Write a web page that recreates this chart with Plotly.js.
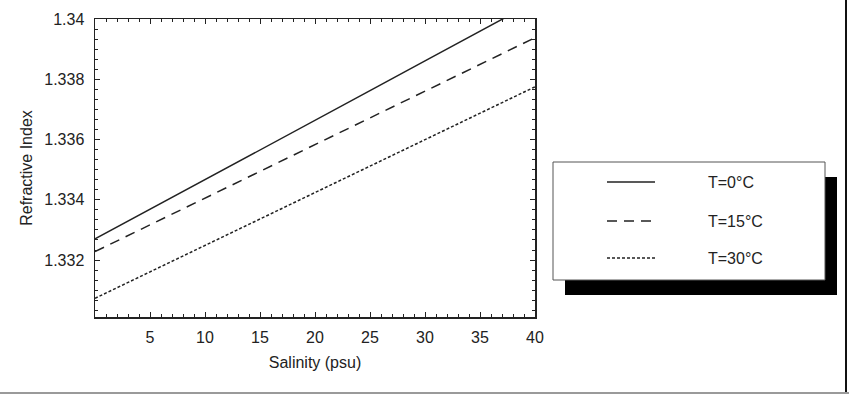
<!DOCTYPE html>
<html>
<head>
<meta charset="utf-8">
<script src="https://cdn.plot.ly/plotly-3.0.1.min.js"></script>
<style>
  html, body { margin: 0; padding: 0; background: #fff; }
  #wrap { position: relative; width: 849px; height: 394px; overflow: hidden; }
  #chart { width: 849px; height: 394px; }
  #edgeR { position: absolute; left: 845px; top: 0; width: 2px; height: 394px; background: #111; }
  #edgeB { position: absolute; left: 0; top: 392px; width: 849px; height: 2px; background: #9a9a9a; }
</style>
</head>
<body>
<div id="wrap">
  <div id="chart"></div>
  <div id="edgeR"></div>
  <div id="edgeB"></div>
</div>
<script>
// ---- data ----
const salinity = [0, 5, 10, 15, 20, 25, 30, 35, 40];
const n_T0  = [1.33270, 1.33368, 1.33467, 1.33565, 1.33664, 1.33762, 1.33861, 1.33959, 1.34058];
const n_T15 = [1.33228, 1.33317, 1.33405, 1.33494, 1.33583, 1.33672, 1.33760, 1.33849, 1.33938];
const n_T30 = [1.33073, 1.33161, 1.33249, 1.33336, 1.33424, 1.33512, 1.33600, 1.33687, 1.33775];
const seriesNames = ["T=0°C", "T=15°C", "T=30°C"];
const xTickVals = [5, 10, 15, 20, 25, 30, 35, 40];
const yTickVals = [1.332, 1.334, 1.336, 1.338, 1.34];
const yTickText = ["1.332", "1.334", "1.336", "1.338", "1.34"];

// ---- layout geometry ----
const W = 849, H = 394;
const L = 95, R = 535, T = 19, B = 317;
const pw = R - L, ph = B - T;
const px = v => (v - L) / pw;   // pixel x -> paper x
const py = v => (B - v) / ph;   // pixel y -> paper y

const FONT = "Liberation Sans, Arial, sans-serif";
const INK = "#222";
const dashes = ["solid", "10px,7px", "3px,2px"];
const series = [n_T0, n_T15, n_T30];

const traces = series.map((ys, i) => ({
  x: salinity, y: ys, type: "scatter", mode: "lines",
  name: seriesNames[i], showlegend: false,
  line: { color: INK, width: 1.5, dash: dashes[i] }
}));

// legend drawn as box + shadow + samples + text
const legRowsY = [182, 221, 258];
const shapes = [
  { type: "rect", xref: "paper", yref: "paper", x0: px(565), x1: px(837), y0: py(295), y1: py(177),
    fillcolor: "#000", line: { width: 0 } },
  { type: "rect", xref: "paper", yref: "paper", x0: px(553), x1: px(825), y0: py(280), y1: py(162),
    fillcolor: "#fff", line: { color: "#555", width: 1 } }
];
const annotations = [];
seriesNames.forEach((nm, i) => {
  shapes.push({ type: "line", xref: "paper", yref: "paper",
    x0: px(607), x1: px(655), y0: py(legRowsY[i]), y1: py(legRowsY[i]),
    line: { color: INK, width: 1.5, dash: dashes[i] } });
  annotations.push({ xref: "paper", yref: "paper", x: px(706), y: py(legRowsY[i]),
    xanchor: "left", yanchor: "middle", showarrow: false, text: nm,
    font: { family: FONT, size: 16, color: INK } });
});

const axisCommon = {
  showline: true, linecolor: INK, linewidth: 1.5, mirror: "ticks",
  ticks: "inside", ticklen: 5, tickcolor: INK, tickwidth: 1,
  showgrid: false, zeroline: false, fixedrange: true,
  tickfont: { family: FONT, size: 16, color: INK }
};

const layout = {
  width: W, height: H,
  margin: { l: L, r: W - R, t: T, b: H - B, pad: 0 },
  paper_bgcolor: "#fff", plot_bgcolor: "#fff",
  showlegend: false,
  xaxis: Object.assign({}, axisCommon, {
    range: [0, 40], tickmode: "array", tickvals: xTickVals,
    ticklabelstandoff: 5,
    minor: { dtick: 1, ticks: "inside", ticklen: 3, tickcolor: INK, tickwidth: 1 },
    title: { text: "Salinity (psu)", font: { family: FONT, size: 16, color: INK }, standoff: 12 }
  }),
  yaxis: Object.assign({}, axisCommon, {
    range: [1.33011, 1.34], tickmode: "array", tickvals: yTickVals, ticktext: yTickText,
    ticklabelstandoff: 6,
    minor: { dtick: 0.002 / 6, tick0: 1.332, ticks: "inside", ticklen: 3, tickcolor: INK, tickwidth: 1 },
    title: { text: "Refractive Index", font: { family: FONT, size: 16, color: INK }, standoff: 7 }
  }),
  shapes: shapes,
  annotations: annotations
};

Plotly.newPlot("chart", traces, layout, { staticPlot: true, displayModeBar: false });
</script>
</body>
</html>
